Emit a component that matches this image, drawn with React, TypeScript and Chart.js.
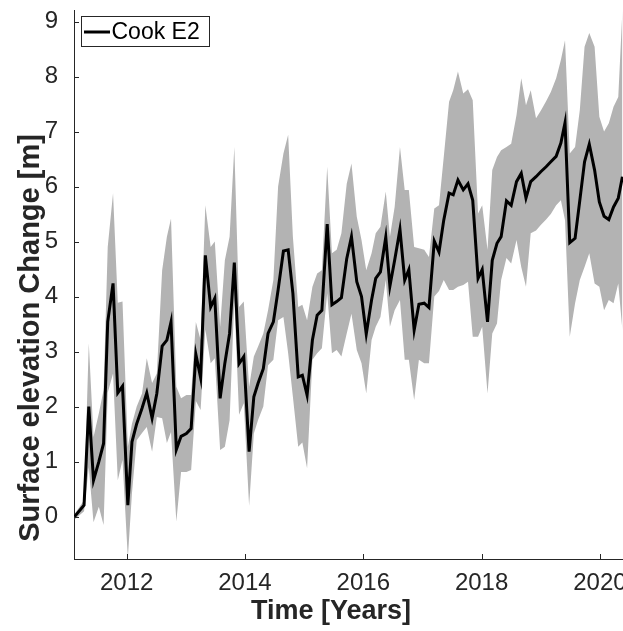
import React, { useEffect, useRef } from "react";
import { Chart, registerables } from "chart.js";

Chart.register(...registerables);

// Time in decimal years
const TIMES = [
  2011.12, 2011.28, 2011.36, 2011.44, 2011.53, 2011.61, 2011.68, 2011.77, 2011.85, 2011.93,
  2012.02, 2012.09, 2012.17, 2012.26, 2012.34, 2012.43, 2012.51, 2012.60, 2012.68, 2012.75,
  2012.84, 2012.92, 2013.01, 2013.09, 2013.17, 2013.25, 2013.33, 2013.42, 2013.49, 2013.58,
  2013.66, 2013.74, 2013.82, 2013.90, 2013.98, 2014.07, 2014.15, 2014.22, 2014.31, 2014.39,
  2014.48, 2014.56, 2014.65, 2014.73, 2014.81, 2014.90, 2014.97, 2015.05, 2015.14, 2015.22,
  2015.30, 2015.39, 2015.47, 2015.55, 2015.63, 2015.72, 2015.80, 2015.89, 2015.97, 2016.05,
  2016.14, 2016.21, 2016.29, 2016.38, 2016.45, 2016.53, 2016.62, 2016.70, 2016.77, 2016.86,
  2016.94, 2017.03, 2017.11, 2017.20, 2017.28, 2017.36, 2017.45, 2017.52, 2017.60, 2017.69,
  2017.77, 2017.85, 2017.94, 2018.01, 2018.10, 2018.18, 2018.26, 2018.33, 2018.42, 2018.50,
  2018.59, 2018.67, 2018.75, 2018.83, 2018.92, 2019.00, 2019.09, 2019.17, 2019.26, 2019.34,
  2019.41, 2019.49, 2019.58, 2019.66, 2019.74, 2019.82, 2019.91, 2019.99, 2020.07, 2020.15,
  2020.23, 2020.31, 2020.38,
];

// Surface elevation change [m], Cook E2
const ELEVATION = [
  0.0, 0.21, 2.0, 0.66, 1.0, 1.33, 3.54, 4.24, 2.25, 2.37,
  0.21, 1.36, 1.69, 1.97, 2.25, 1.79, 2.24, 3.10, 3.21, 3.54,
  1.22, 1.46, 1.51, 1.60, 2.95, 2.53, 4.75, 3.81, 3.97, 2.15,
  2.79, 3.33, 4.62, 2.78, 2.91, 1.18, 2.18, 2.42, 2.69, 3.33,
  3.54, 4.12, 4.83, 4.85, 4.06, 2.54, 2.57, 2.21, 3.21, 3.66,
  3.75, 5.32, 3.85, 3.91, 3.98, 4.69, 5.09, 4.27, 4.00, 3.32,
  3.94, 4.33, 4.45, 5.08, 4.19, 4.66, 5.22, 4.30, 4.49, 3.39,
  3.86, 3.88, 3.80, 5.01, 4.81, 5.39, 5.88, 5.85, 6.12, 5.94,
  6.05, 5.75, 4.33, 4.49, 3.54, 4.66, 4.97, 5.09, 5.74, 5.66,
  6.09, 6.24, 5.79, 6.09, 6.18, 6.27, 6.36, 6.45, 6.55, 6.79,
  7.16, 4.98, 5.06, 5.75, 6.45, 6.77, 6.30, 5.72, 5.46, 5.40,
  5.63, 5.79, 6.18,
];

// Upper bound of uncertainty band
const UPPER = [
  0.05, 0.3, 3.15, 1.45, 1.88, 2.3, 4.9, 5.88, 3.89, 3.91,
  1.27, 1.69, 2.0, 2.24, 2.88, 2.43, 2.6, 4.48, 5.09, 5.42,
  2.36, 2.15, 2.21, 2.21, 3.54, 3.21, 5.66, 4.9, 5.0, 3.45,
  4.66, 5.09, 6.72, 3.81, 3.91, 2.36, 2.91, 3.09, 3.33, 3.75,
  4.3, 6.0, 6.6, 6.94, 5.09, 3.81, 3.85, 3.57, 4.18, 4.42,
  4.48, 6.36, 4.79, 4.85, 5.15, 6.05, 6.42, 5.45, 5.03, 4.48,
  4.79, 5.15, 5.27, 5.91, 5.09, 5.63, 6.72, 5.94, 5.94, 4.9,
  4.88, 4.85, 4.72, 5.6, 5.66, 6.54, 7.54, 7.75, 8.09, 7.69,
  7.77, 7.57, 5.51, 5.66, 4.85, 6.3, 6.54, 6.66, 6.72, 6.78,
  7.3, 7.97, 7.48, 7.75, 7.24, 7.38, 7.55, 7.72, 7.97, 8.3,
  8.66, 6.6, 6.72, 7.39, 8.54, 8.79, 8.54, 7.27, 7.0, 7.15,
  7.45, 7.63, 9.2,
];

// Lower bound of uncertainty band
const LOWER = [
  -0.05, 0.1, 0.9, -0.1, 0.18, -0.15, 2.25, 2.6, 0.66, 1.03,
  -0.75, 0.43, 1.39, 1.52, 1.63, 1.18, 1.81, 1.79, 1.34, 1.54,
  -0.09, 0.81, 0.81, 0.85, 2.1, 1.94, 3.4, 2.79, 2.88, 1.21,
  1.27, 1.75, 3.94, 1.85, 2.06, 0.2, 1.51, 1.75, 2.0, 2.75,
  2.85, 3.57, 3.63, 2.97, 2.18, 1.27, 1.35, 0.88, 2.85, 2.97,
  3.06, 4.06, 2.97, 3.03, 2.91, 3.33, 3.69, 3.03, 2.79, 2.24,
  3.21, 3.45, 3.63, 4.3, 3.45, 3.75, 3.94, 2.85, 2.85, 2.12,
  2.85, 2.79, 2.79, 4.0, 4.1, 4.3, 4.12, 4.12, 4.18, 4.21,
  4.27, 3.27, 3.27, 3.45, 2.24, 3.33, 3.51, 4.3, 4.7, 4.6,
  5.03, 4.54, 4.18, 5.15, 5.2, 5.3, 5.4, 5.5, 5.66, 5.75,
  5.39, 3.27, 3.88, 4.3, 4.54, 4.79, 4.24, 4.18, 3.75, 3.94,
  3.88, 4.24, 3.39,
];

const X_TICKS = [2012, 2014, 2016, 2018, 2020];
const Y_TICKS = [0, 1, 2, 3, 4, 5, 6, 7, 8, 9];

const SERIES_LABEL = "Cook E2";
const X_TITLE = "Time [Years]";
const Y_TITLE = "Surface elevation Change [m]";

const FONT = "'Liberation Sans', Arial, Helvetica, sans-serif";
const AXIS_COLOR = "#262626";

const decorPlugin = {
  id: "decor",
  afterDraw(chart: any) {
    const { ctx, chartArea, scales } = chart;
    ctx.save();
    // inward tick marks
    ctx.strokeStyle = AXIS_COLOR;
    ctx.lineWidth = 1;
    ctx.beginPath();
    X_TICKS.forEach((v) => {
      const px = Math.round(scales.x.getPixelForValue(v)) + 0.5;
      ctx.moveTo(px, chartArea.bottom);
      ctx.lineTo(px, chartArea.bottom - 5);
    });
    Y_TICKS.forEach((v) => {
      const py = Math.round(scales.y.getPixelForValue(v)) + 0.5;
      ctx.moveTo(chartArea.left, py);
      ctx.lineTo(chartArea.left + 5, py);
    });
    ctx.stroke();

    // axis titles
    ctx.fillStyle = AXIS_COLOR;
    ctx.textAlign = "center";
    ctx.textBaseline = "middle";
    ctx.font = `bold 27px ${FONT}`;
    ctx.fillText(X_TITLE, 331, 612);
    ctx.save();
    ctx.font = `bold 29px ${FONT}`;
    ctx.translate(31, 338);
    ctx.rotate(-Math.PI / 2);
    ctx.fillText(Y_TITLE, 0, 0);
    ctx.restore();

    // legend box
    ctx.fillStyle = "#ffffff";
    ctx.fillRect(81.5, 16.5, 128, 30);
    ctx.strokeStyle = "#262626";
    ctx.lineWidth = 1;
    ctx.strokeRect(81.5, 16.5, 128, 30);
    ctx.strokeStyle = "#000000";
    ctx.lineWidth = 3;
    ctx.beginPath();
    ctx.moveTo(84, 32);
    ctx.lineTo(110, 32);
    ctx.stroke();
    ctx.fillStyle = "#000000";
    ctx.font = `23px ${FONT}`;
    ctx.textAlign = "left";
    ctx.textBaseline = "middle";
    ctx.fillText(chart.data.datasets[0].label, 111.5, 32.5);
    ctx.restore();
  },
};

export default function App() {
  const canvasRef = useRef<HTMLCanvasElement | null>(null);

  useEffect(() => {
    const canvas = canvasRef.current;
    if (!canvas) return;
    const pts = (arr: number[]) => TIMES.map((t, i) => ({ x: t, y: arr[i] }));
    const chart = new Chart(canvas, {
      type: "line",
      data: {
        datasets: [
          {
            label: SERIES_LABEL,
            data: pts(ELEVATION),
            borderColor: "#000000",
            borderWidth: 3,
            pointRadius: 0,
            tension: 0,
            fill: false,
            borderJoinStyle: "miter",
          },
          {
            label: "upper",
            data: pts(UPPER),
            borderWidth: 0,
            borderColor: "rgba(0,0,0,0)",
            backgroundColor: "#b3b3b3",
            pointRadius: 0,
            tension: 0,
            fill: "+1",
          },
          {
            label: "lower",
            data: pts(LOWER),
            borderWidth: 0,
            borderColor: "rgba(0,0,0,0)",
            pointRadius: 0,
            tension: 0,
            fill: false,
          },
        ],
      },
      options: {
        animation: false,
        responsive: false,
        maintainAspectRatio: false,
        layout: { padding: { top: 10, right: 0, left: 0, bottom: 0 } },
        plugins: {
          legend: { display: false },
          tooltip: { enabled: false },
        },
        scales: {
          x: {
            type: "linear",
            min: 2011.11,
            max: 2020.39,
            grid: { display: false, drawTicks: false },
            border: { display: true, color: AXIS_COLOR, width: 1 },
            ticks: {
              color: AXIS_COLOR,
              font: { family: FONT, size: 24 },
              padding: 10,
              maxRotation: 0,
              autoSkip: false,
              callback: (v: any) => String(v),
            },
            afterBuildTicks: (scale: any) => {
              scale.ticks = X_TICKS.map((v) => ({ value: v }));
            },
            afterFit: (scale: any) => {
              scale.height = 72;
              scale.paddingLeft = 0;
              scale.paddingRight = 0;
            },
          },
          y: {
            type: "linear",
            min: -0.77,
            max: 9.21,
            grid: { display: false, drawTicks: false },
            border: { display: true, color: AXIS_COLOR, width: 1 },
            ticks: {
              color: AXIS_COLOR,
              font: { family: FONT, size: 24 },
              padding: 16,
              callback: (v: any) => String(v),
            },
            afterBuildTicks: (scale: any) => {
              scale.ticks = Y_TICKS.map((v) => ({ value: v }));
            },
            afterFit: (scale: any) => {
              scale.width = 74;
              scale.paddingTop = 0;
              scale.paddingBottom = 0;
            },
          },
        },
      },
      plugins: [decorPlugin],
    });
    return () => chart.destroy();
  }, []);

  return (
    <div style={{ position: "absolute", left: 0, top: 0, width: 623, height: 631, background: "#fff" }}>
      <canvas ref={canvasRef} width={623} height={631} />
    </div>
  );
}
